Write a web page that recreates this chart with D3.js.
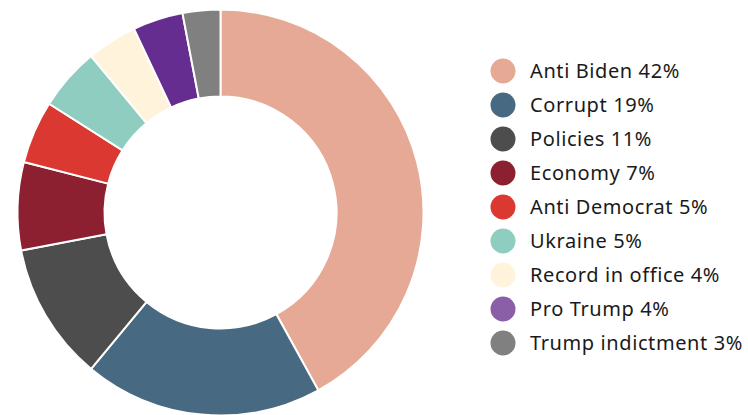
<!DOCTYPE html>
<html>
<head>
<meta charset="utf-8">
<script src="https://cdn.jsdelivr.net/npm/d3@7"></script>
<style>
  body { margin: 0; background: #fff; }
  svg { display: block; }
  .legend text { font-family: "Noto Sans", sans-serif; font-size: 20px; letter-spacing: 0.6px; fill: #1a1a1a; }
</style>
</head>
<body>
<div id="chart"></div>
<script>
"use strict"

const categories = ["Anti Biden", "Corrupt", "Policies", "Economy", "Anti Democrat",
  "Ukraine", "Record in office", "Pro Trump", "Trump indictment"];
const values = [42, 19, 11, 7, 5, 5, 4, 4, 3];
const sliceColors = ["#e6a995", "#476a82", "#4d4d4d", "#8c1f30", "#da3831",
  "#8fcdc0", "#fff4db", "#652d90", "#808080"];
const legendColors = ["#e6a995", "#476a82", "#4d4d4d", "#8c1f30", "#da3831",
  "#8fcdc0", "#fff4db", "#8b5ea8", "#808080"];

const width = 748, height = 415;
const cx = 220.5, cy = 212.5, outerR = 203, innerR = 116;

let svg = d3.select("#chart").append("svg")
  .attr("width", width)
  .attr("height", height);

let pie = d3.pie()
  .sort(null)
  .value(d => d);

let arc = d3.arc()
  .innerRadius(innerR)
  .outerRadius(outerR);

let g = svg.append("g")
  .attr("transform", `translate(${cx},${cy})`);

g.selectAll("path")
  .data(pie(values))
  .enter().append("path")
  .attr("d", arc)
  .style("fill", (d, i) => sliceColors[i])
  .style("stroke", "#fff")
  .style("stroke-width", 2);

// legend on the right
let rowY = d3.scalePoint()
  .domain(categories)
  .range([71, 343]);

let legend = svg.append("g").attr("class", "legend");

let rows = legend.selectAll("g")
  .data(categories)
  .enter().append("g")
  .attr("transform", d => `translate(0,${rowY(d)})`);

rows.append("circle")
  .attr("cx", 503)
  .attr("cy", 0)
  .attr("r", 12.5)
  .style("fill", (d, i) => legendColors[i]);

rows.append("text")
  .attr("x", 530)
  .attr("y", 0)
  .attr("dy", "0.35em")
  .text((d, i) => `${d} ${values[i]}%`);
</script>
</body>
</html>
